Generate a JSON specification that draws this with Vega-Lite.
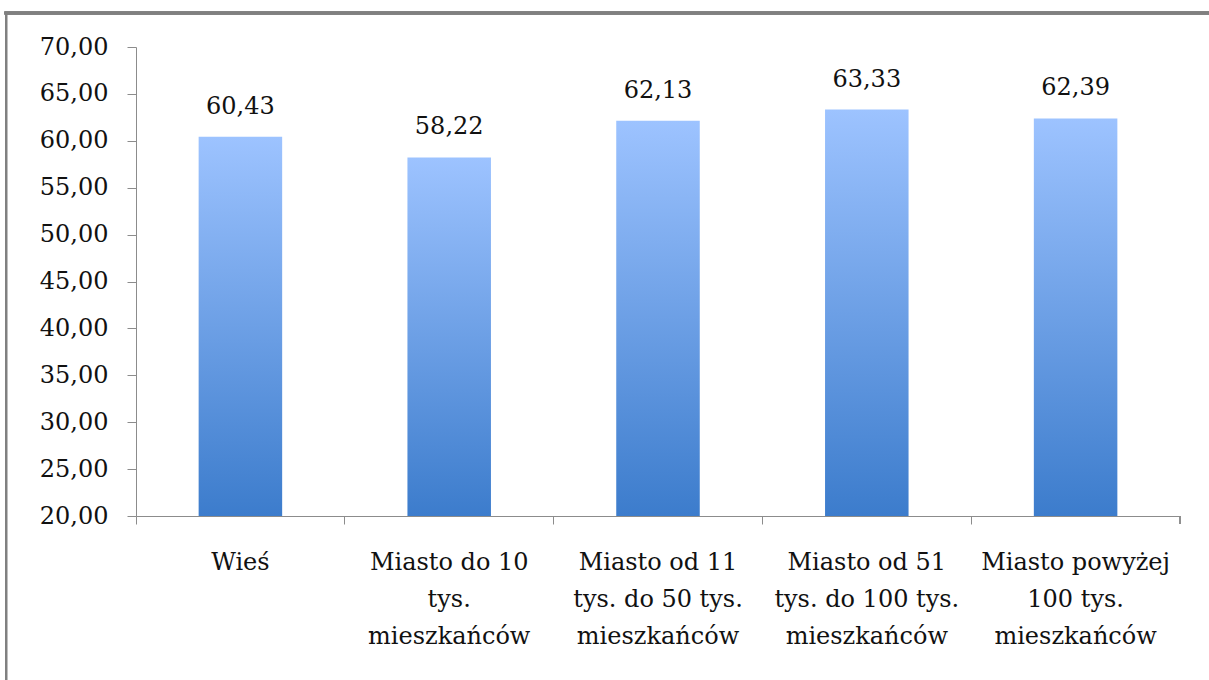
{
  "$schema": "https://vega.github.io/schema/vega-lite/v6.json",
  "autosize": {"type": "none"},
  "width": 1044,
  "height": 469,
  "padding": {"left": 136, "top": 47, "right": 29, "bottom": 164},
  "background": "white",
  "config": {
    "locale": {"number": {"decimal": ",", "thousands": " ", "grouping": [3], "currency": ["", " zł"]}},
    "view": {"stroke": null},
    "font": "DejaVu Serif",
    "axis": {"grid": false, "domainColor": "#8c8c8c", "tickColor": "#8c8c8c", "labelFont": "DejaVu Serif", "labelColor": "#111111", "labelFontSize": 24, "title": null}
  },
  "data": {
    "values": [
      {"kategoria": "Wieś", "wartosc": 60.43},
      {"kategoria": "Miasto do 10|tys.|mieszkańców", "wartosc": 58.22},
      {"kategoria": "Miasto od 11|tys. do 50 tys.|mieszkańców", "wartosc": 62.13},
      {"kategoria": "Miasto od 51|tys. do 100 tys.|mieszkańców", "wartosc": 63.33},
      {"kategoria": "Miasto powyżej|100 tys.|mieszkańców", "wartosc": 62.39}
    ]
  },
  "encoding": {
    "x": {
      "field": "kategoria",
      "type": "nominal",
      "sort": null,
      "scale": {"paddingInner": 0, "paddingOuter": 0},
      "axis": {
        "labelAngle": 0,
        "bandPosition": 0,
        "tickSize": 8,
        "labelPadding": 26,
        "labelLineHeight": 37,
        "labelFontSize": 24,
        "labelExpr": "split(datum.label, '|')",
        "labelLimit": 300
      }
    },
    "y": {
      "field": "wartosc",
      "type": "quantitative",
      "scale": {"domain": [20, 70], "zero": false, "nice": false},
      "axis": {"values": [20, 25, 30, 35, 40, 45, 50, 55, 60, 65, 70], "format": ".2f", "tickSize": 9, "labelPadding": 19}
    }
  },
  "layer": [
    {
      "mark": {
        "type": "bar",
        "width": {"band": 0.4},
        "color": {
          "gradient": "linear",
          "x1": 0, "y1": 0, "x2": 0, "y2": 1,
          "stops": [
            {"offset": 0, "color": "#9dc3ff"},
            {"offset": 1, "color": "#3c7ccc"}
          ]
        }
      },
      "encoding": {"y2": {"datum": 20}}
    },
    {
      "mark": {"type": "text", "baseline": "bottom", "dy": -18, "fontSize": 24, "color": "#111111", "font": "DejaVu Serif"},
      "encoding": {"text": {"field": "wartosc", "type": "quantitative", "format": ".2f"}}
    },
    {
      "description": "closing tick at the right end of the category axis",
      "mark": {"type": "rule", "color": "#8c8c8c", "clip": false},
      "encoding": {
        "x": {"datum": "Miasto powyżej|100 tys.|mieszkańców", "bandPosition": 1},
        "y": {"datum": 20},
        "y2": {"datum": 19.15}
      }
    },
    {
      "description": "outer chart frame, top edge",
      "mark": {"type": "rule", "color": "#808080", "strokeWidth": 3, "clip": false},
      "encoding": {
        "x": {"datum": "Wieś", "bandPosition": -0.63},
        "x2": {"datum": "Miasto powyżej|100 tys.|mieszkańców", "bandPosition": 1.5},
        "y": {"datum": 73.62}
      }
    },
    {
      "description": "outer chart frame, left edge",
      "mark": {"type": "rule", "color": "#808080", "strokeWidth": 2, "clip": false},
      "encoding": {
        "x": {"datum": "Wieś", "bandPosition": -0.622},
        "y": {"datum": 73.7},
        "y2": {"datum": 0}
      }
    }
  ]
}
